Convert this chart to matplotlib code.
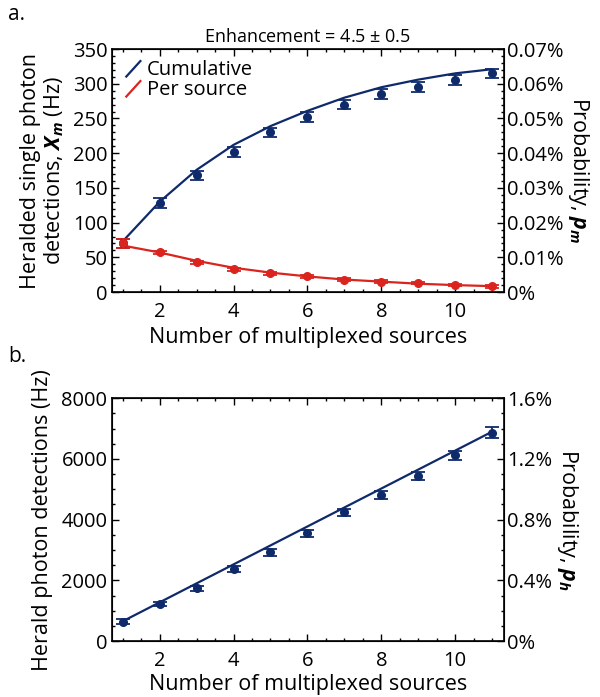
import matplotlib
matplotlib.use("Agg")
import matplotlib.pyplot as plt
from matplotlib.lines import Line2D
from matplotlib.legend_handler import HandlerBase
from matplotlib.ticker import MultipleLocator, FuncFormatter

plt.rcParams['font.family'] = ['Open Sans', 'DejaVu Sans']
plt.rcParams['mathtext.fontset'] = 'custom'
plt.rcParams['mathtext.rm'] = 'Open Sans'
plt.rcParams['mathtext.it'] = 'Open Sans:italic'
plt.rcParams['mathtext.bf'] = 'Open Sans:bold'
plt.rcParams['mathtext.bfit'] = 'Open Sans:italic:bold'

# ---- data ----
sources = [1, 2, 3, 4, 5, 6, 7, 8, 9, 10, 11]

cum_vals = [70, 128, 168, 202, 230, 252, 270, 285, 295, 305, 315]
cum_err = [7, 7, 7, 7, 7, 7, 7, 7, 7, 7, 7]
cum_fit = [73, 130, 176, 212, 239, 261, 280, 295, 306, 315, 321]

per_vals = [70, 57, 43, 33, 27, 22.5, 18, 15, 13, 10, 8]
per_err = [7, 2, 2, 2, 2, 2, 2, 2, 2, 2, 2]
per_fit = [67, 57, 45, 35, 28, 22.5, 18, 15, 12, 10, 8.5]

herald_vals = [637, 1209, 1736, 2374, 2923, 3549, 4242, 4813, 5440, 6121, 6868]
herald_err = [80, 70, 90, 100, 110, 110, 120, 130, 140, 150, 175]
herald_fit = [650, 1275, 1900, 2525, 3150, 3775, 4400, 5025, 5650, 6275, 6900]

BLUE = '#0f2a6b'
RED = '#dc241f'

TICK_FS = 14.5
LABEL_FS = 15.5

class DiagHandler(HandlerBase):
    def create_artists(self, legend, orig_handle, xdescent, ydescent,
                       width, height, fontsize, trans):
        x0 = -xdescent + width * 0.2
        l = Line2D([x0, x0 + height * 1.0], [-ydescent - height * 0.1, -ydescent + height * 1.0],
                   color=orig_handle.get_color(), lw=1.6, transform=trans)
        return [l]

def style_axis(ax):
    ax.tick_params(which='both', direction='in', top=True, labelsize=TICK_FS, width=1.0)
    ax.tick_params(which='major', length=5)
    ax.tick_params(which='minor', length=2.5)
    for s in ax.spines.values():
        s.set_linewidth(1.2)

def style_right(ax):
    ax.tick_params(which='both', direction='in', labelsize=TICK_FS, width=1.0, pad=2)
    ax.tick_params(which='major', length=5)
    ax.tick_params(which='minor', length=2.5)

fig = plt.figure(figsize=(6.0, 6.97), dpi=100)

# ---------- panel a ----------
axa = fig.add_axes([0.186, 0.581, 0.654, 0.3486])
axa.plot(sources, cum_fit, color=BLUE, lw=1.6, label='Cumulative')
axa.plot(sources, per_fit, color=RED, lw=1.6, label='Per source')
axa.errorbar(sources, cum_vals, yerr=cum_err, fmt='o', color=BLUE, ms=5.5,
             capsize=5, elinewidth=1.3, capthick=1.3)
axa.errorbar(sources, per_vals, yerr=per_err, fmt='o', color=RED, ms=5.5,
             capsize=5, elinewidth=1.3, capthick=1.3)
axa.set_xlim(0.7, 11.32)
axa.set_ylim(0, 350)
axa.xaxis.set_major_locator(MultipleLocator(2))
axa.xaxis.set_minor_locator(MultipleLocator(0.5))
axa.yaxis.set_major_locator(MultipleLocator(50))
axa.yaxis.set_minor_locator(MultipleLocator(10))
style_axis(axa)
axa.tick_params(axis='x', pad=7)
axa.tick_params(axis='y', pad=3)
axa.set_xlabel('Number of multiplexed sources', fontsize=LABEL_FS, labelpad=4)
axa.set_ylabel('Heralded single photon\ndetections, $\\mathbfit{X}_{\\mathbfit{m}}$ (Hz)',
               fontsize=LABEL_FS, labelpad=5, linespacing=1.05)
axa.set_title('Enhancement = 4.5 $\\pm$ 0.5', fontsize=13, pad=5)
leg = axa.legend(handler_map={Line2D: DiagHandler()}, loc='upper left', frameon=False,
                 fontsize=14.5, handlelength=0.9, handletextpad=0.3, borderaxespad=0.15,
                 labelspacing=0.0)

axa2 = axa.twinx()
axa2.set_ylim(0, 0.07)
axa2.yaxis.set_major_locator(MultipleLocator(0.01))
axa2.yaxis.set_minor_locator(MultipleLocator(0.002))
axa2.yaxis.set_major_formatter(FuncFormatter(lambda v, p: '0%' if abs(v) < 1e-9 else f'{v:.2f}%'))
style_right(axa2)
axa2.set_ylabel('Probability, $\\mathbfit{p}_{\\mathbfit{m}}$', fontsize=LABEL_FS,
                rotation=270, labelpad=20)

# ---------- panel b ----------
axb = fig.add_axes([0.186, 0.0803, 0.654, 0.3483])
axb.plot(sources, herald_fit, color=BLUE, lw=1.6)
axb.errorbar(sources, herald_vals, yerr=herald_err, fmt='o', color=BLUE, ms=5.5,
             capsize=5, elinewidth=1.3, capthick=1.3)
axb.set_xlim(0.7, 11.32)
axb.set_ylim(0, 8000)
axb.xaxis.set_major_locator(MultipleLocator(2))
axb.xaxis.set_minor_locator(MultipleLocator(0.5))
axb.yaxis.set_major_locator(MultipleLocator(2000))
axb.yaxis.set_minor_locator(MultipleLocator(500))
style_axis(axb)
axb.tick_params(axis='x', pad=7)
axb.tick_params(axis='y', pad=3)
axb.set_xlabel('Number of multiplexed sources', fontsize=LABEL_FS, labelpad=2)
axb.set_ylabel('Herald photon detections (Hz)', fontsize=LABEL_FS, labelpad=6)

axb2 = axb.twinx()
axb2.set_ylim(0, 1.6)
axb2.yaxis.set_major_locator(MultipleLocator(0.4))
axb2.yaxis.set_minor_locator(MultipleLocator(0.1))
axb2.yaxis.set_major_formatter(FuncFormatter(lambda v, p: '0%' if abs(v) < 1e-9 else f'{v:.1f}%'))
style_right(axb2)
axb2.set_ylabel('Probability, $\\mathbfit{p}_{\\mathbfit{h}}$', fontsize=LABEL_FS,
                rotation=270, labelpad=20)

fig.text(8 / 600, 1 - 14 / 697, 'a.', fontsize=15, va='center', ha='left')
fig.text(8 / 600, 1 - 356 / 697, 'b.', fontsize=15, va='center', ha='left')

fig.savefig('out.png', dpi=100)
